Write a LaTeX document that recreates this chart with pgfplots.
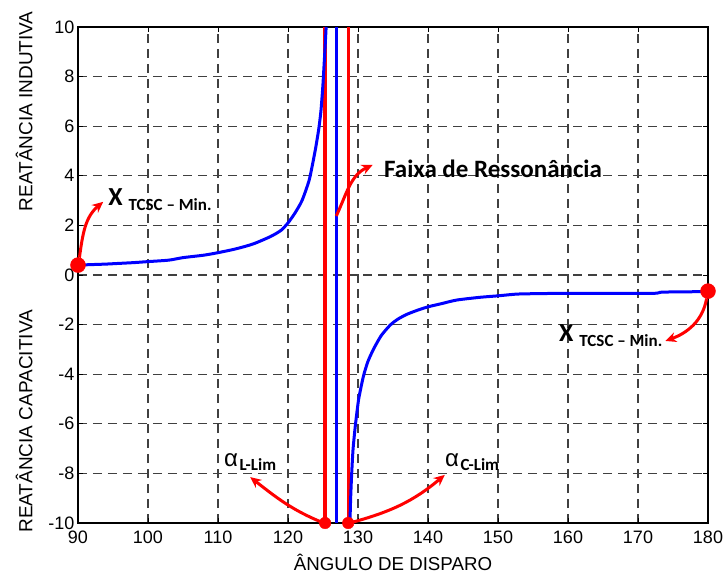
\documentclass[border=0pt]{standalone}
\usepackage{fontspec}
\setmainfont{Liberation Sans}
\newfontfamily\cali{Carlito}
\usepackage{pgfplots}
\pgfplotsset{compat=1.18}
\usetikzlibrary{arrows.meta}
\begin{document}
\begin{tikzpicture}
\useasboundingbox (-78bp,-50bp) rectangle (649bp,523bp);
\begin{axis}[
 at={(0,0)}, anchor=south west,
 scale only axis, width=630bp, height=496bp,
 xmin=90, xmax=180, ymin=-10, ymax=10,
 xtick={90,100,...,180}, ytick={-10,-8,...,10},
 grid=major,
 major grid style={black!75, line width=1.1bp, dash pattern=on 9bp off 6bp},
 axis line style={black, line width=1.5bp},
 tick align=inside, major tick length=5bp, tick style={black, line width=0.8bp},
 ticklabel style={font=\fontsize{18bp}{20bp}\selectfont},
 xticklabel style={yshift=-4bp},
 /pgf/number format/assume math mode=true,
 clip=false,
 xlabel={ÂNGULO DE DISPARO},
 xlabel style={at={(axis description cs:0.5,0)}, anchor=base, yshift=-47bp, font=\fontsize{18.7bp}{20bp}\selectfont},
]
\addplot[red, line width=3.3bp] coordinates {(125.3,-10)(125.3,10)};
\addplot[red, line width=3.3bp] coordinates {(128.6,-10)(128.6,10)};
\addplot[blue, line width=3bp] coordinates {(126.9,-10)(126.9,10)};
\addplot[blue, line width=3bp, smooth, tension=0.4] coordinates {
(90,0.40)(92,0.42)(94,0.44)(96,0.47)(98,0.5)(100,0.54)(103,0.6)(105,0.7)(108,0.8)(110,0.9)(112.5,1.05)(115,1.25)(117.5,1.55)(119,1.8)(120,2.1)(121,2.5)(122,3.0)(123,3.8)(123.6,4.6)(124,5.2)(124.4,5.9)(124.7,6.6)(124.95,7.5)(125.1,8.2)(125.3,9.2)(125.45,10)};
\addplot[blue, line width=3bp, smooth, tension=0.4] coordinates {
(128.85,-10)(128.95,-9)(129.1,-8)(129.3,-7)(129.65,-6)(130.1,-5)(130.76,-4.1)(131.4,-3.5)(132.2,-3.0)(133.3,-2.45)(134.6,-2.02)(135.7,-1.78)(136.95,-1.59)(138.5,-1.42)(140.05,-1.28)(142,-1.15)(144.1,-1.01)(147.4,-0.9)(150,-0.84)(152.7,-0.77)(156,-0.75)(160,-0.74)(172,-0.74)(173.5,-0.69)(180,-0.67)};
\addplot[only marks, mark=*, mark size=7.5bp, color=red, mark options={draw=red, fill=red}] coordinates {(90,0.4)(180,-0.65)};
\addplot[only marks, mark=*, mark size=5.8bp, color=red, mark options={draw=red, fill=red}] coordinates {(125.3,-10)(128.6,-10)};
% arrows
\draw[red, line width=3bp, -{Stealth[length=11bp, width=10bp]}] (axis cs:90.2,0.7) to[out=82, in=220] (axis cs:93.6,2.95);
\draw[red, line width=3bp, -{Stealth[length=11bp, width=10bp]}] (axis cs:126.9,2.38) to[out=65, in=205] (axis cs:132.1,4.44);
\draw[red, line width=3bp, -{Stealth[length=11bp, width=10bp]}] (axis cs:179.8,-0.95) to[out=-100, in=20] (axis cs:173.9,-2.66);
\draw[red, line width=3bp, -{Stealth[length=11bp, width=10bp]}] (axis cs:125.1,-10) to[out=158, in=-38] (axis cs:114.6,-8.15);
\draw[red, line width=3bp, -{Stealth[length=11bp, width=10bp]}] (axis cs:128.8,-10) to[out=15, in=-140] (axis cs:142.4,-8.06);
% texts
\node[anchor=base west, inner sep=0] at (axis cs:133.7,3.95) {\cali\bfseries\fontsize{25bp}{25bp}\selectfont Faixa de Ressonância};
\node[anchor=base west, inner sep=0] at (axis cs:94.3,2.82) {\cali\bfseries{\fontsize{26bp}{26bp}\selectfont X}\hspace{6bp}\raisebox{-5bp}{\fontsize{17bp}{17bp}\selectfont TCSC – Min.}};
\node[anchor=base west, inner sep=0] at (axis cs:158.7,-2.70) {\cali\bfseries{\fontsize{26bp}{26bp}\selectfont X}\hspace{6bp}\raisebox{-5bp}{\fontsize{17bp}{17bp}\selectfont TCSC – Min.}};
\node[anchor=base west, inner sep=0] at (axis cs:110.86,-7.74) {{\fontsize{24bp}{24bp}\selectfont α}\hspace{1.5bp}\raisebox{-4bp}{\cali\bfseries\fontsize{17bp}{17bp}\selectfont L-Lim}};
\node[anchor=base west, inner sep=0] at (axis cs:142.43,-7.74) {{\fontsize{24bp}{24bp}\selectfont α}\hspace{1.5bp}\raisebox{-4bp}{\cali\bfseries\fontsize{17bp}{17bp}\selectfont C-Lim}};
\node[rotate=90, anchor=base, inner sep=0, font=\fontsize{19bp}{20bp}\selectfont] at (axis cs:83.47,6.6) {REATÂNCIA INDUTIVA};
\node[rotate=90, anchor=base, inner sep=0, font=\fontsize{19bp}{20bp}\selectfont] at (axis cs:83.47,-5.9) {REATÂNCIA CAPACITIVA};
\end{axis}
\end{tikzpicture}
\end{document}
